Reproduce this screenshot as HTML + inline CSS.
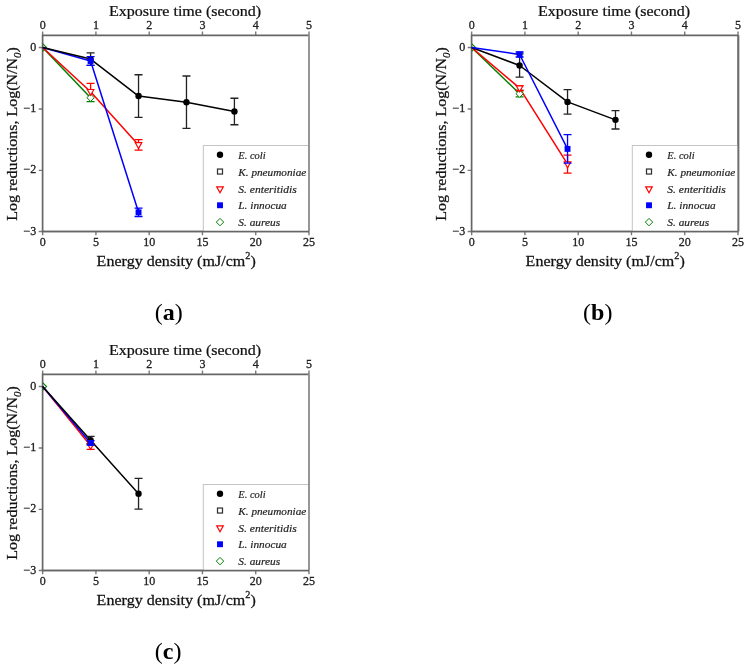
<!DOCTYPE html>
<html><head><meta charset="utf-8"><title>Figure</title>
<style>
html,body{margin:0;padding:0;background:#fff;}
body{width:748px;height:670px;overflow:hidden;}
svg{display:block;}
text{filter:grayscale(1);font-family:"Liberation Serif", serif;fill:#1a1a1a;}
.tk{font-size:12px;fill:#222;stroke:#222;stroke-width:0.3px;}
.ti{font-size:14.8px;fill:#111;stroke:#111;stroke-width:0.25px;}
.lg{font-size:11px;font-style:italic;fill:#222;stroke:#222;stroke-width:0.2px;}
.pl{font-size:24px;fill:#000;}
</style></head><body>
<svg width="748" height="670" viewBox="0 0 748 670"><rect width="748" height="670" fill="#fff"/><path d="M42.65,231.50V235.20M42.65,35.35V31.45M95.92,231.50V235.20M95.92,35.35V31.45M149.19,231.50V235.20M149.19,35.35V31.45M202.46,231.50V235.20M202.46,35.35V31.45M255.73,231.50V235.20M255.73,35.35V31.45M309.00,231.50V235.20M309.00,35.35V31.45M42.60,47.55H38.70M42.60,108.95H38.70M42.60,170.35H38.70M42.60,231.50H38.70" stroke="#7a7a7a" stroke-width="1.4" fill="none"/><path d="M309.00,35.35V231.50" stroke="#969696" stroke-width="2.0" fill="none"/><path d="M309.00,35.35H42.60V231.50H309.00" stroke="#666" stroke-width="1.7" fill="none"/><text x="42.65" y="246.20" text-anchor="middle" class="tk">0</text><text x="42.65" y="29.45" text-anchor="middle" class="tk">0</text><text x="95.92" y="246.20" text-anchor="middle" class="tk">5</text><text x="95.92" y="29.45" text-anchor="middle" class="tk">1</text><text x="149.19" y="246.20" text-anchor="middle" class="tk">10</text><text x="149.19" y="29.45" text-anchor="middle" class="tk">2</text><text x="202.46" y="246.20" text-anchor="middle" class="tk">15</text><text x="202.46" y="29.45" text-anchor="middle" class="tk">3</text><text x="255.73" y="246.20" text-anchor="middle" class="tk">20</text><text x="255.73" y="29.45" text-anchor="middle" class="tk">4</text><text x="309.00" y="246.20" text-anchor="middle" class="tk">25</text><text x="309.00" y="29.45" text-anchor="middle" class="tk">5</text><text x="36.20" y="50.55" text-anchor="end" class="tk">0</text><text x="36.20" y="111.95" text-anchor="end" class="tk">−1</text><text x="36.20" y="173.35" text-anchor="end" class="tk">−2</text><text x="36.20" y="234.50" text-anchor="end" class="tk">−3</text><text transform="translate(109.00,15.80) scale(1.083,1)" class="ti">Exposure time (second)</text><text transform="translate(96.60,265.80) scale(1.086,1)" class="ti">Energy density (mJ/cm<tspan dy="-7" font-size="9.5">2</tspan><tspan dy="7">)</tspan></text><text transform="translate(17.40,220.70) rotate(-90) scale(1.045,1)" class="ti" style="font-size:15.3px">Log reductions, Log(N/N<tspan dy="3.6" font-size="10.5" font-style="italic">0</tspan><tspan dy="-3.6">)</tspan></text><rect x="203.30" y="145.50" width="105.70" height="86.00" fill="#fff" stroke="#c4c4c4" stroke-width="1"/><path d="M309.00,35.35V231.50" stroke="#969696" stroke-width="2.0" fill="none"/><path d="M42.60,231.50H309.00" stroke="#666" stroke-width="1.7" fill="none"/><circle cx="220.00" cy="154.70" r="3.2" fill="#000"/><text transform="translate(238.30,158.80) scale(0.95,1)" class="lg">E. coli</text><rect x="217.50" y="169.05" width="5.0" height="5.0" fill="#fff" stroke="#333" stroke-width="1.25"/><text transform="translate(238.30,175.65) scale(1.02,1)" class="lg">K. pneumoniae</text><path d="M216.70,186.90L223.30,186.90L220.00,192.80Z" fill="#fff" stroke="#ff0000" stroke-width="1.15" stroke-linejoin="miter"/><text transform="translate(238.30,192.50) scale(1.05,1)" class="lg">S. enteritidis</text><rect x="217.05" y="202.30" width="5.9" height="5.9" fill="#0000ff"/><text transform="translate(238.30,209.35) scale(1.03,1)" class="lg">L. innocua</text><path d="M220.00,218.40L223.70,222.10L220.00,225.80L216.30,222.10Z" fill="#fff" stroke="#008000" stroke-width="1.0"/><text transform="translate(238.30,226.20) scale(1.035,1)" class="lg">S. aureus</text><g><path d="M42.65,43.65L46.55,47.55L42.65,51.45" fill="none" stroke="#008000" stroke-width="1.1"/><path d="M42.65,47.55L90.59,97.70" fill="none" stroke="#008000" stroke-width="1.5" stroke-linejoin="round"/><path d="M42.65,47.55L90.59,91.80L138.54,144.90" fill="none" stroke="#ff0000" stroke-width="1.5" stroke-linejoin="round"/><path d="M42.65,47.55L90.59,61.00L138.54,212.35" fill="none" stroke="#0000ff" stroke-width="1.5" stroke-linejoin="round"/><path d="M42.65,47.55L90.59,59.10L138.54,96.05L186.48,102.20L234.42,111.50" fill="none" stroke="#000" stroke-width="1.5" stroke-linejoin="round"/><path d="M90.59,97.70V101.60M86.59,101.60H94.59" stroke="#008000" stroke-width="1.3" fill="none"/><path d="M90.59,94.00L94.29,97.70L90.59,101.40L86.89,97.70Z" fill="#fff" stroke="#008000" stroke-width="1.0"/><path d="M90.59,83.40V91.80M86.59,83.40H94.59" stroke="#ff0000" stroke-width="1.3" fill="none"/><path d="M138.54,139.70V150.10M134.54,139.70H142.54M134.54,150.10H142.54" stroke="#ff0000" stroke-width="1.3" fill="none"/><path d="M87.29,89.50L93.89,89.50L90.59,95.40Z" fill="#fff" stroke="#ff0000" stroke-width="1.15" stroke-linejoin="miter"/><path d="M135.24,142.60L141.84,142.60L138.54,148.50Z" fill="#fff" stroke="#ff0000" stroke-width="1.15" stroke-linejoin="miter"/><path d="M90.59,52.80V65.40M86.59,52.80H94.59M86.59,65.40H94.59" stroke="#222" stroke-width="1.3" fill="none"/><path d="M138.54,74.75V117.35M134.54,74.75H142.54M134.54,117.35H142.54" stroke="#222" stroke-width="1.3" fill="none"/><path d="M186.48,76.00V128.40M182.48,76.00H190.48M182.48,128.40H190.48" stroke="#222" stroke-width="1.3" fill="none"/><path d="M234.42,98.25V124.75M230.42,98.25H238.42M230.42,124.75H238.42" stroke="#222" stroke-width="1.3" fill="none"/><circle cx="90.59" cy="59.10" r="3.2" fill="#000"/><circle cx="138.54" cy="96.05" r="3.2" fill="#000"/><circle cx="186.48" cy="102.20" r="3.2" fill="#000"/><circle cx="234.42" cy="111.50" r="3.2" fill="#000"/><path d="M90.59,56.70V65.30M86.59,56.70H94.59M86.59,65.30H94.59" stroke="#0000ff" stroke-width="1.3" fill="none"/><path d="M138.54,208.20V216.50M134.54,208.20H142.54M134.54,216.50H142.54" stroke="#0000ff" stroke-width="1.3" fill="none"/><rect x="87.64" y="58.05" width="5.9" height="5.9" fill="#0000ff"/><rect x="135.59" y="209.40" width="5.9" height="5.9" fill="#0000ff"/></g><text x="168.7" y="319.7" text-anchor="middle" class="pl">(<tspan font-weight="bold">a</tspan>)</text><path d="M471.65,231.50V235.20M471.65,35.35V31.45M524.92,231.50V235.20M524.92,35.35V31.45M578.19,231.50V235.20M578.19,35.35V31.45M631.46,231.50V235.20M631.46,35.35V31.45M684.73,231.50V235.20M684.73,35.35V31.45M738.00,231.50V235.20M738.00,35.35V31.45M471.60,47.55H467.70M471.60,108.95H467.70M471.60,170.35H467.70M471.60,231.50H467.70" stroke="#7a7a7a" stroke-width="1.4" fill="none"/><path d="M738.30,35.35V231.50" stroke="#6e6e6e" stroke-width="1.8" fill="none"/><path d="M738.30,35.35H471.60V231.50H738.30" stroke="#666" stroke-width="1.7" fill="none"/><text x="471.65" y="246.20" text-anchor="middle" class="tk">0</text><text x="471.65" y="29.45" text-anchor="middle" class="tk">0</text><text x="524.92" y="246.20" text-anchor="middle" class="tk">5</text><text x="524.92" y="29.45" text-anchor="middle" class="tk">1</text><text x="578.19" y="246.20" text-anchor="middle" class="tk">10</text><text x="578.19" y="29.45" text-anchor="middle" class="tk">2</text><text x="631.46" y="246.20" text-anchor="middle" class="tk">15</text><text x="631.46" y="29.45" text-anchor="middle" class="tk">3</text><text x="684.73" y="246.20" text-anchor="middle" class="tk">20</text><text x="684.73" y="29.45" text-anchor="middle" class="tk">4</text><text x="738.00" y="246.20" text-anchor="middle" class="tk">25</text><text x="738.00" y="29.45" text-anchor="middle" class="tk">5</text><text x="465.20" y="50.55" text-anchor="end" class="tk">0</text><text x="465.20" y="111.95" text-anchor="end" class="tk">−1</text><text x="465.20" y="173.35" text-anchor="end" class="tk">−2</text><text x="465.20" y="234.50" text-anchor="end" class="tk">−3</text><text transform="translate(538.00,15.80) scale(1.083,1)" class="ti">Exposure time (second)</text><text transform="translate(525.60,265.80) scale(1.086,1)" class="ti">Energy density (mJ/cm<tspan dy="-7" font-size="9.5">2</tspan><tspan dy="7">)</tspan></text><text transform="translate(446.40,220.70) rotate(-90) scale(1.045,1)" class="ti" style="font-size:15.3px">Log reductions, Log(N/N<tspan dy="3.6" font-size="10.5" font-style="italic">0</tspan><tspan dy="-3.6">)</tspan></text><rect x="632.30" y="145.50" width="106.00" height="86.00" fill="#fff" stroke="#c4c4c4" stroke-width="1"/><path d="M738.30,35.35V231.50" stroke="#6e6e6e" stroke-width="1.8" fill="none"/><path d="M471.60,231.50H738.30" stroke="#666" stroke-width="1.7" fill="none"/><circle cx="649.00" cy="154.70" r="3.2" fill="#000"/><text transform="translate(667.30,158.80) scale(0.95,1)" class="lg">E. coli</text><rect x="646.50" y="169.05" width="5.0" height="5.0" fill="#fff" stroke="#333" stroke-width="1.25"/><text transform="translate(667.30,175.65) scale(1.02,1)" class="lg">K. pneumoniae</text><path d="M645.70,186.90L652.30,186.90L649.00,192.80Z" fill="#fff" stroke="#ff0000" stroke-width="1.15" stroke-linejoin="miter"/><text transform="translate(667.30,192.50) scale(1.05,1)" class="lg">S. enteritidis</text><rect x="646.05" y="202.30" width="5.9" height="5.9" fill="#0000ff"/><text transform="translate(667.30,209.35) scale(1.03,1)" class="lg">L. innocua</text><path d="M649.00,218.40L652.70,222.10L649.00,225.80L645.30,222.10Z" fill="#fff" stroke="#008000" stroke-width="1.0"/><text transform="translate(667.30,226.20) scale(1.035,1)" class="lg">S. aureus</text><g><path d="M471.65,43.65L475.55,47.55L471.65,51.45" fill="none" stroke="#008000" stroke-width="1.1"/><path d="M471.65,47.55L519.59,93.70" fill="none" stroke="#008000" stroke-width="1.5" stroke-linejoin="round"/><path d="M471.65,47.55L519.59,88.10L567.54,164.10" fill="none" stroke="#ff0000" stroke-width="1.5" stroke-linejoin="round"/><path d="M471.65,47.55L519.59,65.50L567.54,101.90L615.48,119.85" fill="none" stroke="#000" stroke-width="1.5" stroke-linejoin="round"/><path d="M471.65,47.55L519.59,54.50L567.54,148.90" fill="none" stroke="#0000ff" stroke-width="1.5" stroke-linejoin="round"/><path d="M519.59,90.50V96.90M515.59,90.50H523.59M515.59,96.90H523.59" stroke="#008000" stroke-width="1.3" fill="none"/><path d="M519.59,90.00L523.29,93.70L519.59,97.40L515.89,93.70Z" fill="#fff" stroke="#008000" stroke-width="1.0"/><path d="M519.59,85.70V90.50M515.59,85.70H523.59M515.59,90.50H523.59" stroke="#ff0000" stroke-width="1.3" fill="none"/><path d="M567.54,155.05V173.15M563.54,155.05H571.54M563.54,173.15H571.54" stroke="#ff0000" stroke-width="1.3" fill="none"/><path d="M516.29,85.80L522.89,85.80L519.59,91.70Z" fill="#fff" stroke="#ff0000" stroke-width="1.15" stroke-linejoin="miter"/><path d="M564.24,161.80L570.84,161.80L567.54,167.70Z" fill="#fff" stroke="#ff0000" stroke-width="1.15" stroke-linejoin="miter"/><path d="M519.59,53.80V77.20M515.59,53.80H523.59M515.59,77.20H523.59" stroke="#222" stroke-width="1.3" fill="none"/><path d="M567.54,89.60V114.20M563.54,89.60H571.54M563.54,114.20H571.54" stroke="#222" stroke-width="1.3" fill="none"/><path d="M615.48,110.70V129.00M611.48,110.70H619.48M611.48,129.00H619.48" stroke="#222" stroke-width="1.3" fill="none"/><circle cx="519.59" cy="65.50" r="3.2" fill="#000"/><circle cx="567.54" cy="101.90" r="3.2" fill="#000"/><circle cx="615.48" cy="119.85" r="3.2" fill="#000"/><path d="M519.59,52.00V57.00M515.59,52.00H523.59M515.59,57.00H523.59" stroke="#0000ff" stroke-width="1.3" fill="none"/><path d="M567.54,134.60V163.20M563.54,134.60H571.54M563.54,163.20H571.54" stroke="#0000ff" stroke-width="1.3" fill="none"/><rect x="516.64" y="51.55" width="5.9" height="5.9" fill="#0000ff"/><rect x="564.59" y="145.95" width="5.9" height="5.9" fill="#0000ff"/></g><text x="597.7" y="319.7" text-anchor="middle" class="pl">(<tspan font-weight="bold">b</tspan>)</text><path d="M42.65,570.50V574.20M42.65,374.35V370.45M95.92,570.50V574.20M95.92,374.35V370.45M149.19,570.50V574.20M149.19,374.35V370.45M202.46,570.50V574.20M202.46,374.35V370.45M255.73,570.50V574.20M255.73,374.35V370.45M309.00,570.50V574.20M309.00,374.35V370.45M42.60,386.55H38.70M42.60,447.95H38.70M42.60,509.35H38.70M42.60,570.50H38.70" stroke="#7a7a7a" stroke-width="1.4" fill="none"/><path d="M309.00,374.35V570.50" stroke="#969696" stroke-width="2.0" fill="none"/><path d="M309.00,374.35H42.60V570.50H309.00" stroke="#666" stroke-width="1.7" fill="none"/><text x="42.65" y="585.20" text-anchor="middle" class="tk">0</text><text x="42.65" y="368.45" text-anchor="middle" class="tk">0</text><text x="95.92" y="585.20" text-anchor="middle" class="tk">5</text><text x="95.92" y="368.45" text-anchor="middle" class="tk">1</text><text x="149.19" y="585.20" text-anchor="middle" class="tk">10</text><text x="149.19" y="368.45" text-anchor="middle" class="tk">2</text><text x="202.46" y="585.20" text-anchor="middle" class="tk">15</text><text x="202.46" y="368.45" text-anchor="middle" class="tk">3</text><text x="255.73" y="585.20" text-anchor="middle" class="tk">20</text><text x="255.73" y="368.45" text-anchor="middle" class="tk">4</text><text x="309.00" y="585.20" text-anchor="middle" class="tk">25</text><text x="309.00" y="368.45" text-anchor="middle" class="tk">5</text><text x="36.20" y="389.55" text-anchor="end" class="tk">0</text><text x="36.20" y="450.95" text-anchor="end" class="tk">−1</text><text x="36.20" y="512.35" text-anchor="end" class="tk">−2</text><text x="36.20" y="573.50" text-anchor="end" class="tk">−3</text><text transform="translate(109.00,354.80) scale(1.083,1)" class="ti">Exposure time (second)</text><text transform="translate(96.60,604.80) scale(1.086,1)" class="ti">Energy density (mJ/cm<tspan dy="-7" font-size="9.5">2</tspan><tspan dy="7">)</tspan></text><text transform="translate(17.40,559.70) rotate(-90) scale(1.045,1)" class="ti" style="font-size:15.3px">Log reductions, Log(N/N<tspan dy="3.6" font-size="10.5" font-style="italic">0</tspan><tspan dy="-3.6">)</tspan></text><rect x="203.30" y="484.50" width="105.70" height="86.00" fill="#fff" stroke="#c4c4c4" stroke-width="1"/><path d="M309.00,374.35V570.50" stroke="#969696" stroke-width="2.0" fill="none"/><path d="M42.60,570.50H309.00" stroke="#666" stroke-width="1.7" fill="none"/><circle cx="220.00" cy="493.70" r="3.2" fill="#000"/><text transform="translate(238.30,497.80) scale(0.95,1)" class="lg">E. coli</text><rect x="217.50" y="508.05" width="5.0" height="5.0" fill="#fff" stroke="#333" stroke-width="1.25"/><text transform="translate(238.30,514.65) scale(1.02,1)" class="lg">K. pneumoniae</text><path d="M216.70,525.90L223.30,525.90L220.00,531.80Z" fill="#fff" stroke="#ff0000" stroke-width="1.15" stroke-linejoin="miter"/><text transform="translate(238.30,531.50) scale(1.05,1)" class="lg">S. enteritidis</text><rect x="217.05" y="541.30" width="5.9" height="5.9" fill="#0000ff"/><text transform="translate(238.30,548.35) scale(1.03,1)" class="lg">L. innocua</text><path d="M220.00,557.40L223.70,561.10L220.00,564.80L216.30,561.10Z" fill="#fff" stroke="#008000" stroke-width="1.0"/><text transform="translate(238.30,565.20) scale(1.035,1)" class="lg">S. aureus</text><g><path d="M42.65,382.65L46.55,386.55L42.65,390.45" fill="none" stroke="#008000" stroke-width="1.1"/><path d="M42.65,386.55L90.59,445.80" fill="none" stroke="#ff0000" stroke-width="1.5" stroke-linejoin="round"/><path d="M42.65,386.55L90.59,442.90" fill="none" stroke="#0000ff" stroke-width="1.5" stroke-linejoin="round"/><path d="M42.65,386.55L90.59,440.20L138.54,493.80" fill="none" stroke="#000" stroke-width="1.5" stroke-linejoin="round"/><path d="M90.59,443.80V449.30M86.59,443.80H94.59M86.59,449.30H94.59" stroke="#ff0000" stroke-width="1.3" fill="none"/><path d="M87.29,443.50L93.89,443.50L90.59,449.40Z" fill="#fff" stroke="#ff0000" stroke-width="1.15" stroke-linejoin="miter"/><path d="M90.59,436.30V444.10M86.59,436.30H94.59M86.59,444.10H94.59" stroke="#222" stroke-width="1.3" fill="none"/><path d="M138.54,478.45V509.15M134.54,478.45H142.54M134.54,509.15H142.54" stroke="#222" stroke-width="1.3" fill="none"/><circle cx="90.59" cy="440.20" r="3.2" fill="#000"/><circle cx="138.54" cy="493.80" r="3.2" fill="#000"/><path d="M90.59,440.70V445.10M86.59,440.70H94.59M86.59,445.10H94.59" stroke="#0000ff" stroke-width="1.3" fill="none"/><rect x="87.64" y="439.95" width="5.9" height="5.9" fill="#0000ff"/></g><text x="168.2" y="659.1" text-anchor="middle" class="pl">(<tspan font-weight="bold">c</tspan>)</text></svg>
</body></html>
